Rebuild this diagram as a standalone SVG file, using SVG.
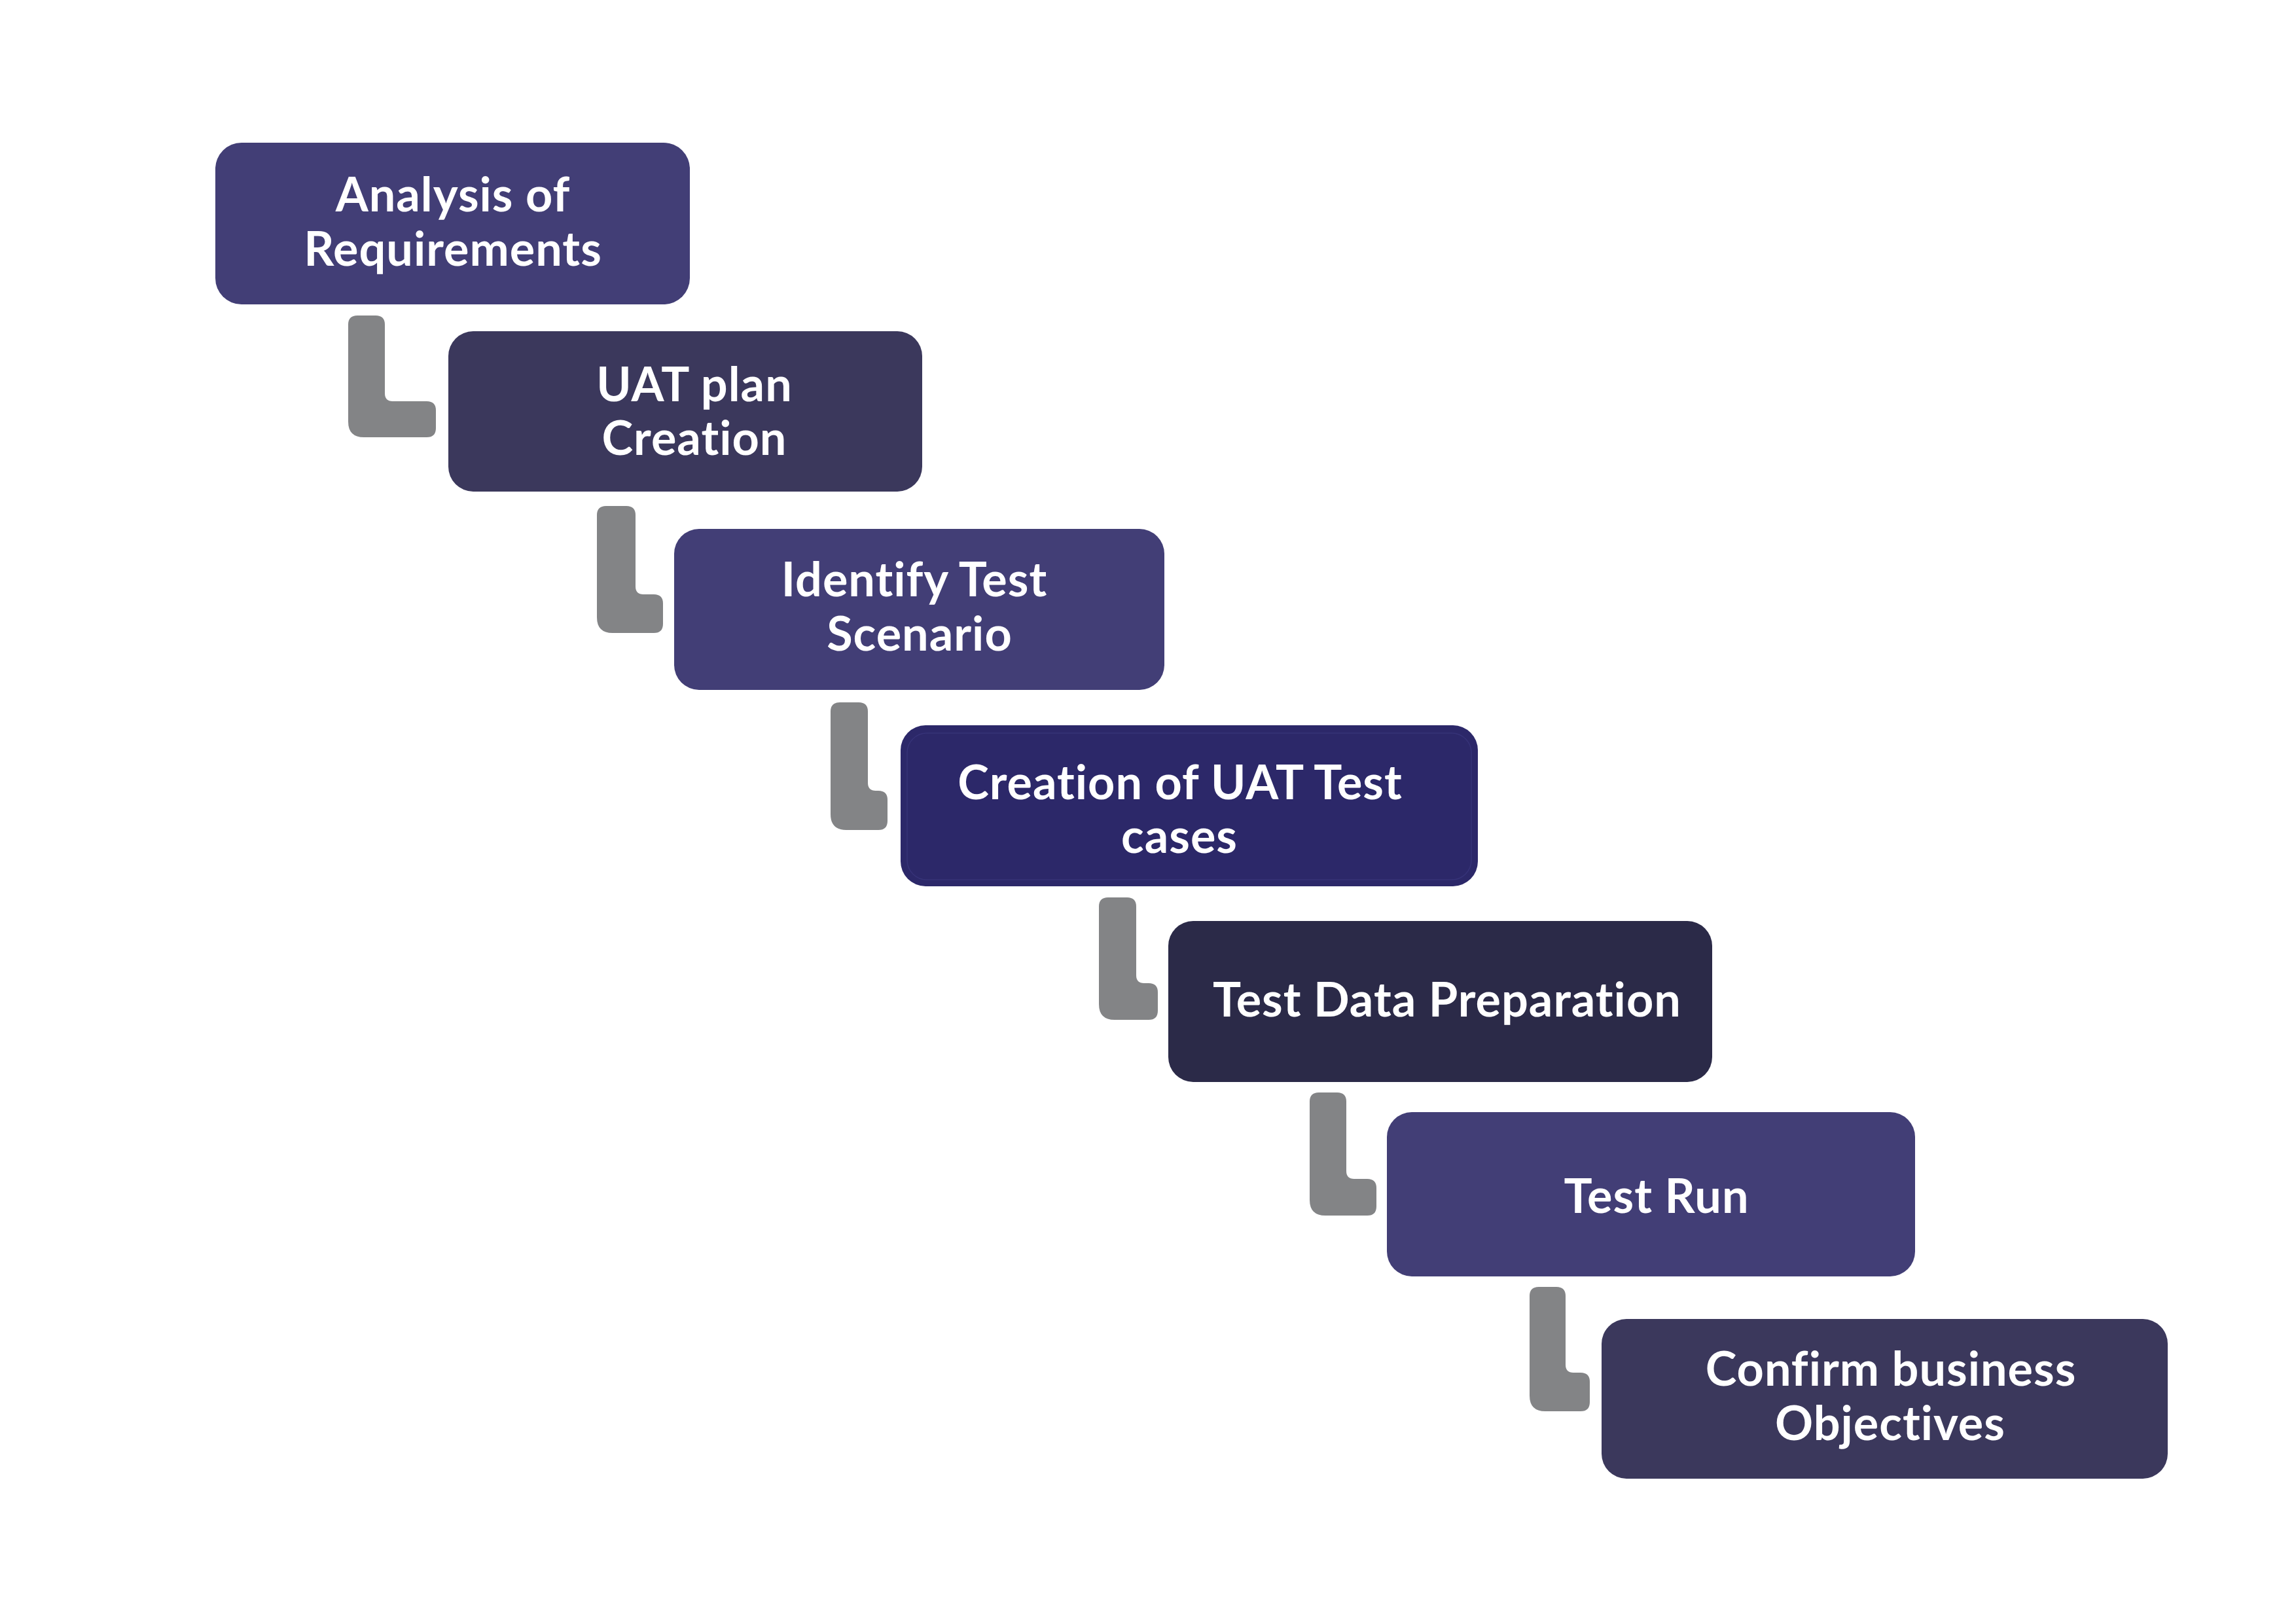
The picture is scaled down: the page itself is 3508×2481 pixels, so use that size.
<svg xmlns="http://www.w3.org/2000/svg" width="3508" height="2481" viewBox="0 0 3508 2481">
<style>
.bg{fill:#ffffff}
.box{stroke:none}
.c1{fill:#423e76}
.c2{fill:#3b385c}
.c3{fill:#2c2869}
.c4{fill:#2b2a48}
.inner{fill:none;stroke:#3d3a82;stroke-width:1.5;opacity:0.6}
.conn{fill:#838486;stroke:none}
.lbl{font-family:"Lato","Open Sans","Liberation Sans",sans-serif;font-weight:700;font-size:72px;letter-spacing:1px;fill:#ffffff;text-anchor:middle}
</style>
<rect class="bg" x="0" y="0" width="3508" height="2481"/>
<g id="connectors">
<path class="conn" d="M546,482 H574 Q588,482 588,496 V601 Q588,613 600,613 H652 Q666,613 666,627 V654 Q666,668 652,668 H556 Q532,668 532,644 V496 Q532,482 546,482 Z"/>
<path class="conn" d="M926,773 H957 Q971,773 971,787 V896 Q971,908 983,908 H999 Q1013,908 1013,922 V953 Q1013,967 999,967 H936 Q912,967 912,943 V787 Q912,773 926,773 Z"/>
<path class="conn" d="M1283,1073 H1312 Q1326,1073 1326,1087 V1196 Q1326,1208 1338,1208 H1342 Q1356,1208 1356,1222 V1254 Q1356,1268 1342,1268 H1293 Q1269,1268 1269,1244 V1087 Q1269,1073 1283,1073 Z"/>
<path class="conn" d="M1693,1371 H1722 Q1736,1371 1736,1385 V1490 Q1736,1502 1748,1502 H1755 Q1769,1502 1769,1516 V1544 Q1769,1558 1755,1558 H1703 Q1679,1558 1679,1534 V1385 Q1679,1371 1693,1371 Z"/>
<path class="conn" d="M2015,1669 H2043 Q2057,1669 2057,1683 V1789 Q2057,1801 2069,1801 H2089 Q2103,1801 2103,1815 V1843 Q2103,1857 2089,1857 H2025 Q2001,1857 2001,1833 V1683 Q2001,1669 2015,1669 Z"/>
<path class="conn" d="M2351,1966 H2378 Q2392,1966 2392,1980 V2085 Q2392,2097 2404,2097 H2415 Q2429,2097 2429,2111 V2142 Q2429,2156 2415,2156 H2361 Q2337,2156 2337,2132 V1980 Q2337,1966 2351,1966 Z"/>
</g>
<g id="node1">
<rect class="box c1" x="329" y="218" width="725" height="247" rx="40" ry="40"/>
<text class="lbl" x="692" y="323">Analysis of</text>
<text class="lbl" x="692" y="406">Requirements</text>
</g>
<g id="node2">
<rect class="box c2" x="685" y="506" width="724" height="245" rx="38" ry="38"/>
<text class="lbl" x="1061" y="613">UAT plan</text>
<text class="lbl" x="1061" y="695">Creation</text>
</g>
<g id="node3">
<rect class="box c1" x="1030" y="808" width="749" height="246" rx="38" ry="38"/>
<text class="lbl" x="1397" y="911">Identify Test</text>
<text class="lbl" x="1405" y="994">Scenario</text>
</g>
<g id="node4">
<rect class="box c3" x="1376" y="1108" width="882" height="246" rx="38" ry="38"/>
<rect class="inner" x="1386" y="1120" width="862" height="224" rx="30" ry="30"/>
<text class="lbl" x="1803" y="1221">Creation of UAT Test</text>
<text class="lbl" x="1802" y="1303">cases</text>
</g>
<g id="node5">
<rect class="box c4" x="1785" y="1407" width="831" height="246" rx="38" ry="38"/>
<text class="lbl" x="2211" y="1553">Test Data Preparation</text>
</g>
<g id="node6">
<rect class="box c1" x="2119" y="1699" width="807" height="251" rx="38" ry="38"/>
<text class="lbl" x="2531" y="1853">Test Run</text>
</g>
<g id="node7">
<rect class="box c2" x="2447" y="2015" width="865" height="244" rx="38" ry="38"/>
<text class="lbl" x="2889" y="2117">Confirm business</text>
<text class="lbl" x="2888" y="2200">Objectives</text>
</g>
</svg>
